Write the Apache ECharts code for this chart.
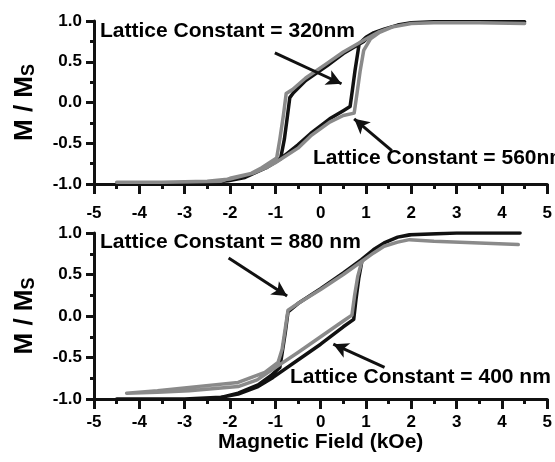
<!DOCTYPE html>
<html>
<head>
<meta charset="utf-8">
<script src="https://cdn.jsdelivr.net/npm/echarts@6/dist/echarts.min.js"></script>
<style>
  html, body { margin: 0; padding: 0; background: #fff; }
  #chart { width: 555px; height: 462px; }
</style>
</head>
<body>
<div id="chart"></div>
<script>
// Hysteresis loops, M/Ms vs applied field (kOe). Each loop runs from +H down
// to -H (descending branch) and back up to +H (ascending branch).
const loop320 = [
  [4.5, 0.99], [3.5, 0.99], [2.5, 0.99], [2.0, 0.98], [1.7, 0.95], [1.4, 0.9],
  [1.15, 0.85], [0.95, 0.75], [0.5, 0.6], [0.14, 0.45], [-0.33, 0.27],
  [-0.6, 0.12], [-0.68, 0.06], [-0.74, -0.2], [-0.8, -0.45], [-0.88, -0.68],
  [-1.2, -0.8], [-1.67, -0.92], [-2.04, -0.96], [-2.4, -0.98], [-3.5, -1.0], [-4.5, -1.0],
  [-3.5, -1.0], [-2.4, -0.98], [-2.04, -0.96], [-1.67, -0.92], [-1.2, -0.8],
  [-0.88, -0.69], [-0.5, -0.52], [-0.22, -0.38], [0.2, -0.2], [0.5, -0.1],
  [0.65, -0.05], [0.7, 0.15], [0.76, 0.4], [0.85, 0.72], [1.0, 0.8], [1.15, 0.85],
  [1.4, 0.9], [1.7, 0.95], [2.0, 0.98], [2.5, 0.99], [3.5, 0.99], [4.5, 0.99]
];
const loop560 = [
  [4.5, 0.97], [3.5, 0.98], [2.5, 0.98], [2.0, 0.97], [1.6, 0.93], [1.3, 0.87],
  [1.0, 0.78], [0.5, 0.62], [0.14, 0.48], [-0.33, 0.3], [-0.62, 0.16],
  [-0.76, 0.11], [-0.82, -0.15], [-0.9, -0.45], [-0.97, -0.68], [-1.3, -0.8],
  [-1.53, -0.87], [-2.0, -0.93], [-2.19, -0.965], [-3.5, -0.98], [-4.5, -0.98],
  [-3.5, -0.98], [-2.5, -0.965], [-2.0, -0.94], [-1.5, -0.87], [-1.2, -0.8],
  [-1.0, -0.74], [-0.5, -0.56], [-0.22, -0.41], [0.2, -0.24], [0.5, -0.16],
  [0.74, -0.13], [0.8, 0.1], [0.87, 0.38], [0.95, 0.64], [1.1, 0.78],
  [1.3, 0.86], [1.6, 0.93], [2.0, 0.97], [2.5, 0.98], [3.5, 0.98], [4.5, 0.97]
];
const loop400 = [
  [4.4, 1.0], [3.0, 1.0], [2.0, 0.98], [1.7, 0.95], [1.4, 0.88], [1.17, 0.8],
  [0.9, 0.68], [0.5, 0.52], [0.0, 0.33], [-0.5, 0.15], [-0.72, 0.05],
  [-0.78, -0.2], [-0.85, -0.45], [-0.9, -0.62], [-1.1, -0.72], [-1.38, -0.83],
  [-1.82, -0.93], [-2.2, -0.98], [-3.0, -1.0], [-4.5, -1.0],
  [-3.0, -1.0], [-2.2, -0.98], [-1.82, -0.94], [-1.38, -0.85], [-1.05, -0.74],
  [-0.5, -0.53], [0.0, -0.34], [0.5, -0.13], [0.73, -0.04], [0.78, 0.2],
  [0.84, 0.45], [0.91, 0.66], [1.17, 0.8], [1.4, 0.88], [1.7, 0.95],
  [1.96, 0.98], [3.0, 1.0], [4.4, 1.0]
];
const loop880 = [
  [4.36, 0.86], [3.5, 0.88], [2.5, 0.9], [1.96, 0.92], [1.7, 0.89], [1.4, 0.84],
  [1.17, 0.76], [0.91, 0.66], [0.5, 0.5], [0.0, 0.32], [-0.5, 0.15],
  [-0.72, 0.07], [-0.78, -0.15], [-0.85, -0.4], [-0.94, -0.56], [-1.23, -0.68],
  [-1.82, -0.8], [-2.9, -0.86], [-3.6, -0.9], [-4.28, -0.93],
  [-3.6, -0.92], [-2.9, -0.9], [-1.82, -0.85], [-1.4, -0.77], [-1.05, -0.64],
  [-0.5, -0.44], [0.0, -0.25], [0.5, -0.06], [0.69, 0.01], [0.75, 0.25],
  [0.82, 0.48], [0.91, 0.66], [1.17, 0.76], [1.4, 0.84], [1.7, 0.89],
  [1.96, 0.92], [2.5, 0.9], [3.5, 0.88], [4.36, 0.86]
];

// Annotation arrows in data units: [tail, head]
const arrow320 = [[-1.01, 0.61], [0.46, 0.23]];
const arrow560 = [[1.57, -0.59], [0.74, -0.2]];
const arrow880 = [[-2.03, 0.70], [-0.74, 0.24]];
const arrow400 = [[1.41, -0.62], [0.28, -0.34]];

const FONT = '"Liberation Sans", Arial, sans-serif';
const INK = '#111111';
const GREY = '#8a8a8a';

function xAxisCfg(gridIndex, withName, labelMargin) {
  return {
    type: 'value', gridIndex, min: -5, max: 5, interval: 1,
    axisLine: { show: true, onZero: false, lineStyle: { color: INK, width: 3 } },
    axisTick: { show: true, inside: false, length: 10, lineStyle: { color: INK, width: 3 } },
    minorTick: { show: true, splitNumber: 2, length: 5, lineStyle: { color: INK, width: 3 } },
    splitLine: { show: false },
    axisLabel: { color: '#000', fontSize: 17, fontWeight: 'bold', fontFamily: FONT,
                 margin: labelMargin, showMinLabel: true, showMaxLabel: true },
    name: withName ? 'Magnetic Field (kOe)' : '',
    nameLocation: 'middle', nameGap: 31,
    nameTextStyle: { color: '#000', fontSize: 21, fontWeight: 'bold', fontFamily: FONT }
  };
}
function yAxisCfg(gridIndex) {
  return {
    type: 'value', gridIndex, min: -1, max: 1, interval: 0.5,
    axisLine: { show: true, onZero: false, lineStyle: { color: INK, width: 3 } },
    axisTick: { show: true, inside: false, length: 8, lineStyle: { color: INK, width: 3 } },
    minorTick: { show: true, splitNumber: 2, length: 4, lineStyle: { color: INK, width: 3 } },
    splitLine: { show: false },
    axisLabel: { color: '#000', fontSize: 17, fontWeight: 'bold', fontFamily: FONT,
                 margin: 12, formatter: v => v.toFixed(1) },
    name: '{m|M / M}{s|S}',
    nameLocation: 'middle', nameRotate: 90, nameGap: 56,
    nameTextStyle: {
      color: '#000',
      rich: {
        m: { fontSize: 26, fontWeight: 'bold', fontFamily: FONT, color: '#000' },
        s: { fontSize: 18, fontWeight: 'bold', fontFamily: FONT, color: '#000', verticalAlign: 'bottom' }
      }
    }
  };
}
function arrowLine(a) {
  return [
    { coord: a[0], symbol: 'none' },
    { coord: a[1], symbol: 'arrow', symbolSize: [12, 15] }
  ];
}
function loopSeries(data, color, axisIndex, arrows) {
  const s = {
    type: 'line', data, xAxisIndex: axisIndex, yAxisIndex: axisIndex,
    showSymbol: false, symbol: 'none', smooth: false, silent: true,
    lineStyle: { color, width: 3.5, join: 'round', cap: 'round' },
    emphasis: { disabled: true }
  };
  if (arrows) {
    s.markLine = {
      silent: true, animation: false,
      label: { show: false },
      lineStyle: { color: INK, width: 3, type: 'solid' },
      emphasis: { disabled: true },
      data: arrows.map(arrowLine)
    };
  }
  return s;
}
function note(text, x, y) {
  return {
    type: 'text', left: x, top: y - 12, silent: true, z: 100,
    style: { text, font: 'bold 21px ' + FONT, fill: '#000' }
  };
}

const chart = echarts.init(document.getElementById('chart'), null, { renderer: 'canvas' });
chart.setOption({
  animation: false,
  backgroundColor: '#ffffff',
  grid: [
    { left: 94, top: 21, width: 458, height: 163 },
    { left: 94, top: 233, width: 458, height: 166 }
  ],
  xAxis: [xAxisCfg(0, false, 21), xAxisCfg(1, true, 15)],
  yAxis: [yAxisCfg(0), yAxisCfg(1)],
  series: [
    loopSeries(loop320, INK, 0, [arrow320, arrow560]),
    loopSeries(loop560, GREY, 0, null),
    loopSeries(loop400, INK, 1, [arrow880, arrow400]),
    loopSeries(loop880, GREY, 1, null)
  ],
  graphic: [
    note('Lattice Constant = 320nm', 100, 33),
    note('Lattice Constant = 560nm', 313, 160),
    note('Lattice Constant = 880 nm', 100, 244),
    note('Lattice Constant = 400 nm', 290, 379)
  ]
});
</script>
</body>
</html>
